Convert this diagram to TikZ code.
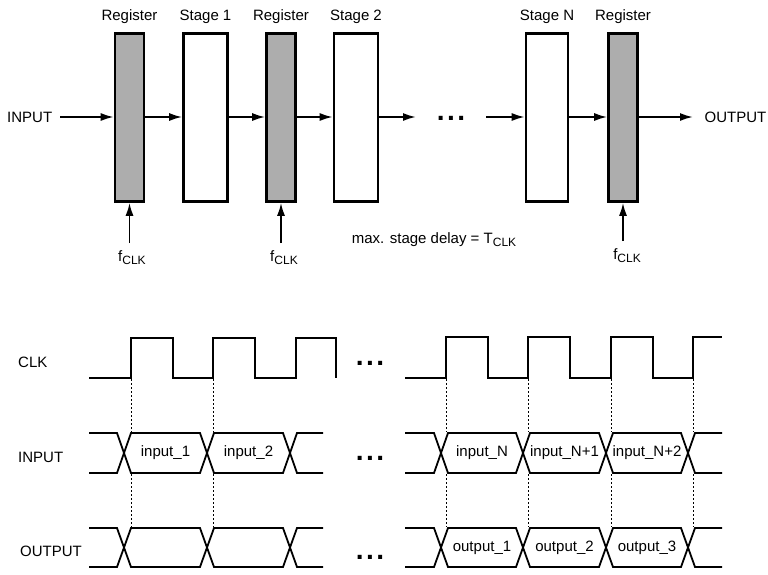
\documentclass[tikz,border=0pt]{standalone}
\usepackage{fontspec}
\setmainfont{Liberation Sans}
\usetikzlibrary{arrows.meta}
\newcommand{\subclk}{\raisebox{-3pt}{\fontsize{12}{12}\selectfont CLK}}
\tikzset{
  base/.style={font=\fontsize{15}{17}\selectfont},
  regbox/.style={draw, line width=2.6pt, fill=black!32, minimum width=29pt, minimum height=168pt, inner sep=0pt},
  stagebox/.style={draw, line width=2.6pt, fill=white, minimum width=44pt, minimum height=168pt, inner sep=0pt},
  arr/.style={line width=1.8pt, -{Latex[length=13pt,width=8pt]}},
  wave/.style={line width=1.8pt, line join=miter},
  guide/.style={line width=0.7pt, dash pattern=on 2pt off 2pt},
  lbl/.style={base, anchor=west, inner sep=0pt},
  dots/.style={font=\fontsize{28}{28}\selectfont\bfseries, anchor=base, inner sep=0pt}
}
\newcommand{\tdots}{.\hspace{2.5pt}.\hspace{2.5pt}.}
\begin{document}
\begin{tikzpicture}[x=1pt,y=-1pt,base]
\useasboundingbox (0,0) rectangle (768,574);
% ---------- pipeline ----------
\node[regbox]   (reg1) at (129.5,117.5) {};
\node[stagebox] (st1)  at (205.5,117.5) {};
\node[regbox]   (reg2) at (281,117.5) {};
\node[stagebox] (st2)  at (356,117.5) {};
\node[stagebox, minimum width=42pt] (stN) at (547,117.5) {};
\node[regbox]   (reg3) at (623,117.5) {};

\node (lr1) at (129.5,17) {Register};
\node (ls1) at (205.5,17) {Stage 1};
\node (lr2) at (281,17) {Register};
\node (ls2) at (356,17) {Stage 2};
\node (lsN) at (547,17) {Stage N};
\node (lr3) at (623,17) {Register};

\node[lbl] (in) at (7,117) {INPUT};
\node[lbl] (out) at (704.5,117) {OUTPUT};
\coordinate (inS) at (60,117);
\coordinate (st2E) at (416,117);
\coordinate (dotsE) at (486,117);
\coordinate (outW) at (693,117);
\node[dots] (tdots) at (451,120) {\tdots};

\draw[arr] (inS) -- (reg1.west |- inS);
\draw[arr] (reg1.east |- inS) -- (st1.west |- inS);
\draw[arr] (st1.east |- inS) -- (reg2.west |- inS);
\draw[arr] (reg2.east |- inS) -- (st2.west |- inS);
\draw[arr] (st2.east |- inS) -- (st2E);
\draw[arr] (dotsE) -- (stN.west |- inS);
\draw[arr] (stN.east |- inS) -- (reg3.west |- inS);
\draw[arr] (reg3.east |- inS) -- (outW);

\node (f1) at (132,258) {f\subclk};
\node (f2) at (284,258) {f\subclk};
\node (f3) at (627,256) {f\subclk};
\coordinate (c1) at (129.5,243);
\coordinate (c2) at (281,243);
\coordinate (c3) at (623,241);
\draw[arr] (c1) -- (reg1.south);
\draw[arr] (c2) -- (reg2.south);
\draw[arr] (c3) -- (reg3.south);

\node (delay) at (434,240) {max. stage delay = T\subclk};

% ---------- timing ----------
\node[lbl] (lclk) at (18,362) {CLK};
\node[lbl] (lin)  at (18,457) {INPUT};
\node[lbl] (lout) at (20,551) {OUTPUT};

\node[dots] (d1) at (370,365) {\tdots};
\node[dots] (d2) at (370,460) {\tdots};
\node[dots] (d3) at (370,559) {\tdots};

% clock
\draw[wave] (89,378) -- (131,378) -- (131,338) -- (173,338) -- (173,378) -- (213,378) -- (213,338) -- (255,338) -- (255,378) -- (296,378) -- (296,338) -- (336,338) -- (336,378);
\draw[wave] (405,378) -- (446,378) -- (446,337) -- (488,337) -- (488,378) -- (528,378) -- (528,337) -- (570,337) -- (570,378) -- (611,378) -- (611,337) -- (653,337) -- (653,378) -- (693,378) -- (693,337) -- (722,337);

% input bus
\draw[wave] (89,433) -- (117,433) -- (131,473) -- (200,473) -- (214,433) -- (283,433) -- (297,473) -- (323,473);
\draw[wave] (89,473) -- (117,473) -- (131,433) -- (200,433) -- (214,473) -- (283,473) -- (297,433) -- (323,433);
\draw[wave] (405,433) -- (434,433) -- (448,473) -- (516,473) -- (530,433) -- (599,433) -- (613,473) -- (681,473) -- (695,433) -- (722,433);
\draw[wave] (405,473) -- (434,473) -- (448,433) -- (516,433) -- (530,473) -- (599,473) -- (613,433) -- (681,433) -- (695,473) -- (722,473);

% output bus
\draw[wave] (89,528) -- (117,528) -- (131,567) -- (200,567) -- (214,528) -- (283,528) -- (297,567) -- (323,567);
\draw[wave] (89,567) -- (117,567) -- (131,528) -- (200,528) -- (214,567) -- (283,567) -- (297,528) -- (323,528);
\draw[wave] (405,528) -- (434,528) -- (448,567) -- (516,567) -- (530,528) -- (599,528) -- (613,567) -- (681,567) -- (695,528) -- (722,528);
\draw[wave] (405,567) -- (434,567) -- (448,528) -- (516,528) -- (530,567) -- (599,567) -- (613,528) -- (681,528) -- (695,567) -- (722,567);

% bus labels
\node (i1) at (165.5,453) {input\_1};
\node (i2) at (248.5,453) {input\_2};
\node (iN) at (482,453) {input\_N};
\node (iN1) at (564.5,453) {input\_N+1};
\node (iN2) at (647,453) {input\_N+2};
\node (o1) at (482,548) {output\_1};
\node (o2) at (564.5,548) {output\_2};
\node (o3) at (647,548) {output\_3};

% dashed guides
\foreach \x in {131,213,446,528,611,693} {
  \draw[guide] (\x,379) -- (\x,432);
  \draw[guide] (\x,474) -- (\x,527);
}
\end{tikzpicture}
\end{document}
